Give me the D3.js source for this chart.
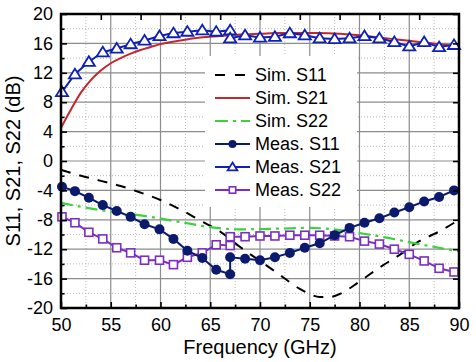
<!DOCTYPE html>
<html>
<head>
<meta charset="utf-8">
<title>S-parameters</title>
<style>
	body { margin: 0; background: #fff; }
	svg { display: block; font-family: "Liberation Sans", Arial, sans-serif; }
</style>
</head>
<body>
<svg width="476" height="362"></svg>
<script src="https://cdn.jsdelivr.net/npm/d3@7"></script>
<script>
	// simulated curves
	const simFreq21 = [50, 51, 52, 53, 54, 55, 56, 57, 58, 59, 60, 62, 64, 66, 68, 70, 72, 74, 76, 78, 80, 82, 84, 86, 88, 90]
	const simS21 = [4.5, 7.0, 9.3, 11.0, 12.3, 13.3, 14.0, 14.6, 15.1, 15.5, 15.9, 16.4, 16.8, 17.0, 17.2, 17.3, 17.4, 17.4, 17.4, 17.3, 17.1, 16.8, 16.5, 16.2, 15.9, 15.6]
	const simFreq11 = [50, 52, 54, 56, 58, 60, 62, 64, 66, 68, 70, 72, 74, 75, 76, 77, 78, 80, 82, 84, 86, 88, 90]
	const simS11 = [-1.2, -2.0, -2.7, -3.4, -4.3, -5.3, -6.6, -8.1, -9.6, -11.7, -13.6, -15.5, -17.4, -18.1, -18.5, -18.5, -18.1, -16.4, -14.5, -12.8, -10.9, -9.6, -8.0]
	const simFreq22 = [50, 54, 58, 62, 65, 68, 72, 75, 78, 80, 83, 86, 90]
	const simS22 = [-5.7, -6.7, -7.4, -8.3, -9.0, -9.3, -9.2, -9.1, -9.4, -9.8, -10.5, -11.3, -12.3]

	// measured points (two bands, joined at 67 GHz)
	const measFreq = [50.1, 51.4, 52.8, 54.2, 55.6, 57.0, 58.4, 59.9, 61.3, 62.7, 64.2, 65.6, 67.0,
		67.0, 68.5, 70.0, 71.5, 73.0, 74.5, 76.0, 77.5, 79.0, 80.5, 82.0, 83.5, 85.0, 86.5, 88.0, 89.5]
	const measS11 = [-3.5, -4.1, -5.0, -6.0, -6.8, -7.6, -8.6, -9.3, -10.6, -12.2, -13.2, -14.8, -15.4,
		-13.1, -13.3, -13.5, -13.1, -12.5, -11.8, -11.2, -10.1, -9.1, -8.4, -7.8, -7.0, -6.3, -5.5, -4.9, -4.0]
	const measS21 = [9.4, 11.8, 13.5, 14.8, 15.3, 15.9, 16.4, 17.0, 17.4, 17.6, 17.8, 17.6, 17.8,
		16.7, 17.1, 16.8, 16.9, 17.4, 17.1, 16.7, 16.6, 16.7, 17.0, 16.7, 16.2, 15.6, 16.2, 15.5, 15.8]
	const measS22 = [-7.6, -8.4, -9.7, -10.6, -11.8, -12.5, -13.5, -13.5, -14.1, -13.1, -12.5, -11.4, -11.5,
		-10.3, -10.3, -10.2, -10.2, -10.1, -10.1, -10.1, -10.2, -10.3, -10.9, -11.3, -12.0, -12.7, -13.6, -14.6, -15.1]

	// axes
	const xMajor = [50, 55, 60, 65, 70, 75, 80, 85, 90]
	const xMinor = [52.5, 57.5, 62.5, 67.5, 72.5, 77.5, 82.5, 87.5]
	const xTop = [54, 58, 62, 66, 70, 74, 78, 82, 86]
	const yMajor = [-20, -16, -12, -8, -4, 0, 4, 8, 12, 16, 20]
	const yMinor = [-18, -14, -10, -6, -2, 2, 6, 10, 14, 18]

	const legendLabels = ["Sim. S11", "Sim. S21", "Sim. S22", "Meas. S11", "Meas. S21", "Meas. S22"]

	const svg = d3.select("svg")
	const L = 61, R = 459, T = 14, B = 308
	const x = d3.scaleLinear().domain([50, 90]).range([L, R])
	const y = d3.scaleLinear().domain([-20, 20]).range([B, T])

	//网格
	const grid = svg.append("g")
	grid.selectAll(".gxm").data(xMinor).join("line")
		.attr("x1", d => x(d)).attr("x2", d => x(d)).attr("y1", T).attr("y2", B)
		.attr("stroke", "#b8b8b8").attr("stroke-dasharray", "1,2")
	grid.selectAll(".gym").data(yMinor).join("line")
		.attr("y1", d => y(d)).attr("y2", d => y(d)).attr("x1", L).attr("x2", R)
		.attr("stroke", "#b8b8b8").attr("stroke-dasharray", "1,2")
	grid.selectAll(".gx").data(xMajor.slice(1, -1)).join("line")
		.attr("x1", d => x(d)).attr("x2", d => x(d)).attr("y1", T).attr("y2", B)
		.attr("stroke", "#8c8c8c").attr("stroke-width", 1.2)
	grid.selectAll(".gy").data(yMajor.slice(1, -1)).join("line")
		.attr("y1", d => y(d)).attr("y2", d => y(d)).attr("x1", L).attr("x2", R)
		.attr("stroke", "#8c8c8c").attr("stroke-width", 1.2)

	//曲线
	const lineOf = (fs, vs, curve) => d3.line().x((d, i) => x(fs[i])).y(d => y(d)).curve(curve)(vs)
	const plot = svg.append("g")
	plot.append("path").attr("d", lineOf(simFreq11, simS11, d3.curveMonotoneX))
		.attr("fill", "none").attr("stroke", "#000").attr("stroke-width", 2).attr("stroke-dasharray", "10,9")
	plot.append("path").attr("d", lineOf(simFreq22, simS22, d3.curveMonotoneX))
		.attr("fill", "none").attr("stroke", "#3bd23b").attr("stroke-width", 2.2).attr("stroke-dasharray", "12,5,3,5")
	plot.append("path").attr("d", lineOf(simFreq21, simS21, d3.curveMonotoneX))
		.attr("fill", "none").attr("stroke", "#c0282d").attr("stroke-width", 2)

	const meas = [
		{ v: measS22, color: "#7a2ec4", shape: "square" },
		{ v: measS11, color: "#0c1a6e", shape: "circle" },
		{ v: measS21, color: "#1020b4", shape: "triangle" }
	]
	function marker(sel, shape, color, s) {
		if (shape === "circle") {
			sel.append("circle").attr("r", 5 * s).attr("fill", color)
		} else if (shape === "square") {
			sel.append("rect").attr("x", -4 * s).attr("y", -4 * s).attr("width", 8 * s).attr("height", 8 * s)
				.attr("fill", "#fff").attr("stroke", color).attr("stroke-width", 1.6)
		} else {
			const h = 5.5 * s
			sel.append("path").attr("d", `M0,${-h}L${h * 1.1},${h * 0.75}L${-h * 1.1},${h * 0.75}Z`)
				.attr("fill", "#fff").attr("stroke", color).attr("stroke-width", 1.8)
		}
	}
	meas.forEach(m => {
		plot.append("path").attr("d", lineOf(measFreq, m.v, d3.curveLinear))
			.attr("fill", "none").attr("stroke", m.color).attr("stroke-width", 2)
		plot.selectAll(null).data(m.v).join("g")
			.attr("transform", (d, i) => `translate(${x(measFreq[i])},${y(d)})`)
			.each(function () { marker(d3.select(this), m.shape, m.color, 1) })
	})

	//坐标轴
	const fmt = d => String(d)
	const styleAxis = g => {
		g.select(".domain").remove()
		g.selectAll("line").attr("stroke", "#000").attr("stroke-width", 1.6)
		g.selectAll("text").attr("font-size", 18).attr("fill", "#000").attr("font-family", "Liberation Sans, Arial, sans-serif")
	}
	svg.append("g").attr("transform", `translate(0,${B})`)
		.call(d3.axisBottom(x).tickValues(xMajor).tickSize(-6).tickPadding(10).tickFormat(fmt)).call(styleAxis)
	svg.append("g").attr("transform", `translate(0,${B})`)
		.call(d3.axisBottom(x).tickValues(xMinor).tickSize(-3.5).tickFormat(() => "")).call(styleAxis)
	svg.append("g").attr("transform", `translate(0,${T})`)
		.call(d3.axisTop(x).tickValues(xTop).tickSize(-6).tickFormat(() => "")).call(styleAxis)
	svg.append("g").attr("transform", `translate(${L},0)`)
		.call(d3.axisLeft(y).tickValues(yMajor).tickSize(-6).tickPadding(8).tickFormat(fmt)).call(styleAxis)
	svg.append("g").attr("transform", `translate(${L},0)`)
		.call(d3.axisLeft(y).tickValues(yMinor).tickSize(-3.5).tickFormat(() => "")).call(styleAxis)
	svg.append("g").attr("transform", `translate(${R},0)`)
		.call(d3.axisRight(y).tickValues(yMajor).tickSize(-6).tickFormat(() => "")).call(styleAxis)

	//边框
	svg.append("rect").attr("x", L).attr("y", T).attr("width", R - L).attr("height", B - T)
		.attr("fill", "none").attr("stroke", "#000").attr("stroke-width", 2.5)

	//图例
	const lg = svg.append("g")
	lg.append("rect").attr("x", 205).attr("y", 56).attr("width", 152).attr("height", 151).attr("fill", "#fff")
	const legendStyle = [
		{ color: "#000", dash: "10,10", w: 2 },
		{ color: "#c0282d", dash: null, w: 2 },
		{ color: "#3bd23b", dash: "13,5,3,5", w: 2.2 },
		{ color: "#0c1a6e", dash: null, w: 2, shape: "circle" },
		{ color: "#1020b4", dash: null, w: 2, shape: "triangle" },
		{ color: "#7a2ec4", dash: null, w: 2, shape: "square" }
	]
	legendLabels.forEach((t, i) => {
		const cy = 75 + i * 23
		const st = legendStyle[i]
		lg.append("line").attr("x1", 215).attr("x2", 250).attr("y1", cy).attr("y2", cy)
			.attr("stroke", st.color).attr("stroke-width", st.w).attr("stroke-dasharray", st.dash)
		if (st.shape) {
			const mg = lg.append("g").attr("transform", `translate(232.5,${cy})`)
			marker(mg, st.shape, st.color, 0.8)
		}
		lg.append("text").attr("x", 255).attr("y", cy).attr("dy", "0.36em")
			.attr("font-size", 18).text(t)
	})

	//轴标题
	svg.append("text").attr("x", (L + R) / 2).attr("y", 354).attr("text-anchor", "middle")
		.attr("font-size", 20).text("Frequency (GHz)")
	svg.append("text").attr("transform", `translate(20,${(T + B) / 2}) rotate(-90)`)
		.attr("text-anchor", "middle").attr("font-size", 20).text("S11, S21, S22 (dB)")
</script>
</body>
</html>
